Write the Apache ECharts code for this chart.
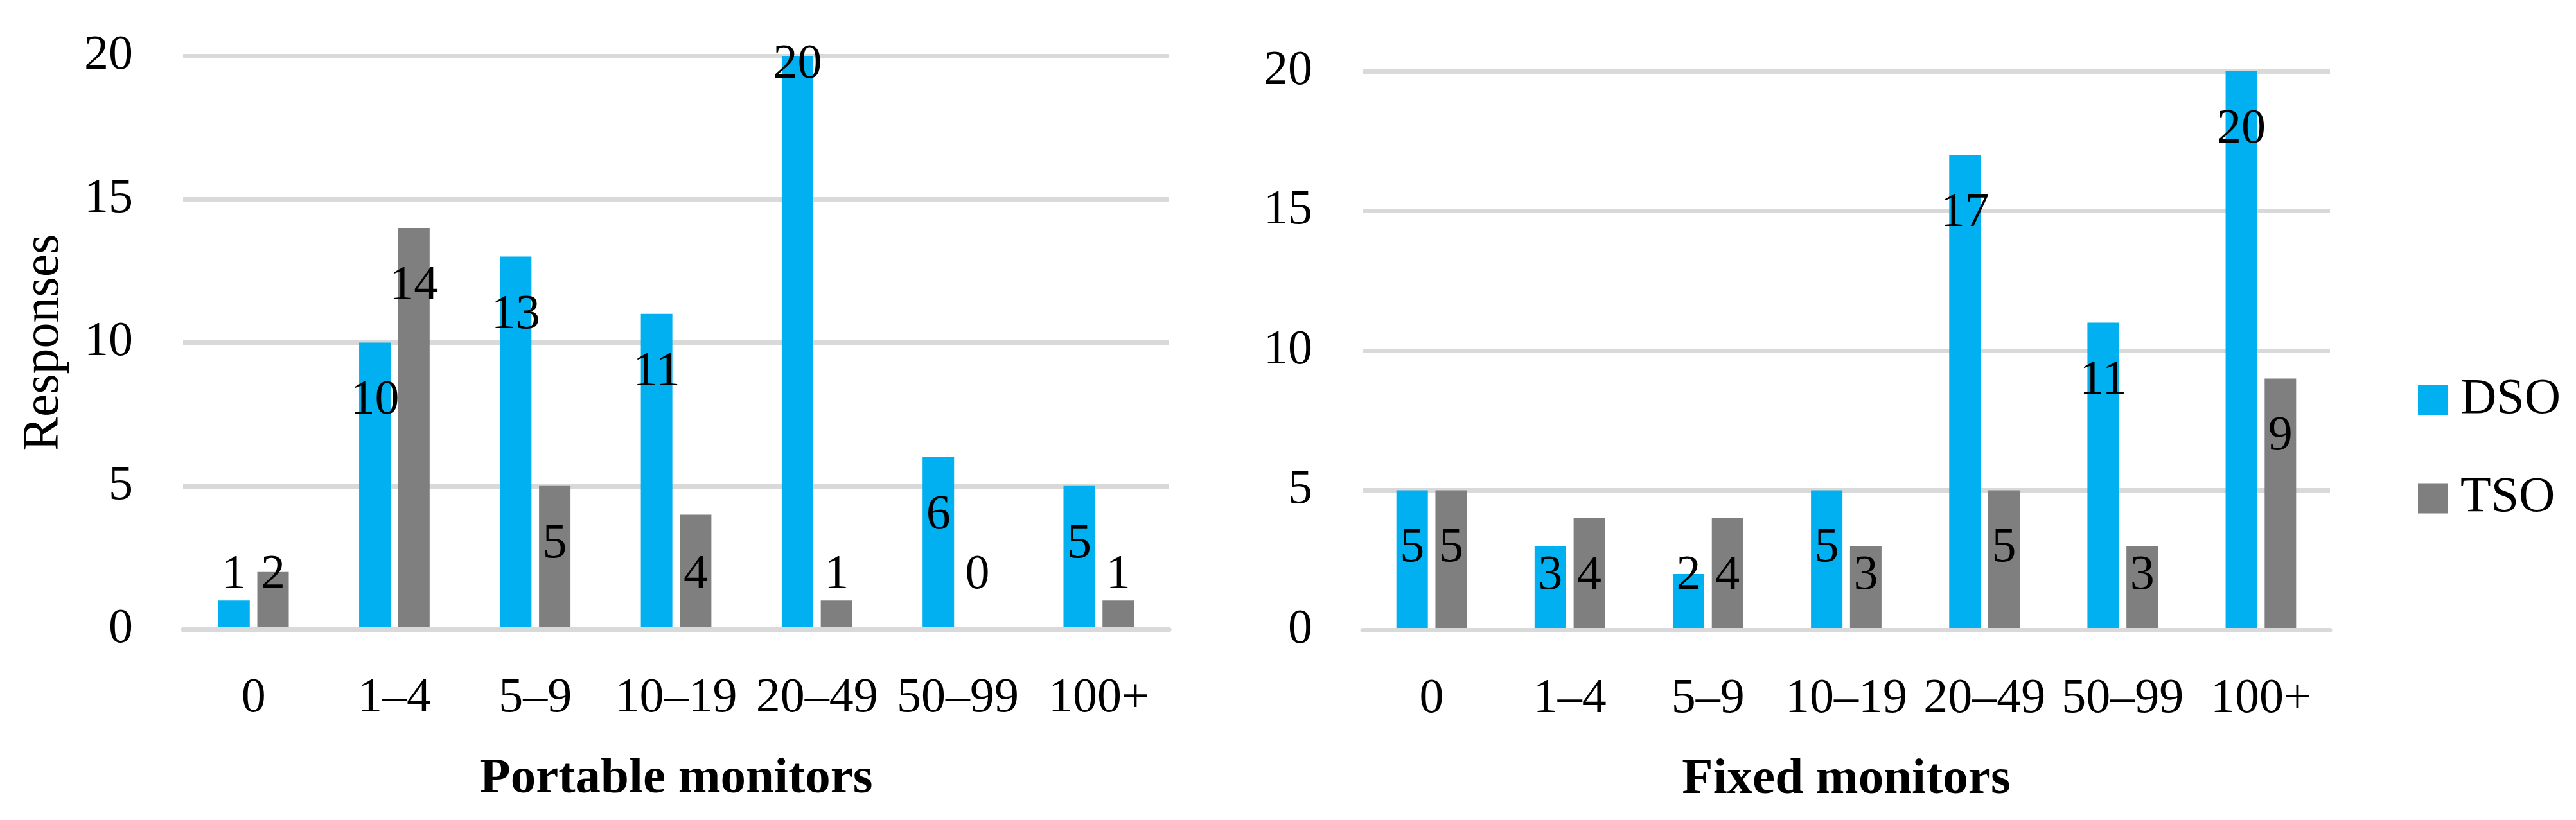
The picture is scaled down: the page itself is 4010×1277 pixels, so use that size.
<!DOCTYPE html>
<html>
<head>
<meta charset="utf-8">
<script src="https://cdn.jsdelivr.net/npm/echarts@6/dist/echarts.min.js"></script>
<style>
  html, body { margin: 0; padding: 0; background: #fff; }
  #chart { width: 4010px; height: 1277px; }
</style>
</head>
<body>
<div id="chart"></div>
<script>
// ---- data ----
const categories = ['0', '1–4', '5–9', '10–19', '20–49', '50–99', '100+'];
const seriesNames = ['DSO', 'TSO'];
const portableDSO = [1, 10, 13, 11, 20, 6, 5];
const portableTSO = [2, 14, 5, 4, 1, 0, 1];
const fixedDSO = [5, 3, 2, 5, 17, 11, 20];
const fixedTSO = [5, 4, 4, 3, 5, 3, 9];
const yTicks = [0, 5, 10, 15, 20];
const panelTitles = ['Portable monitors', 'Fixed monitors'];
const yAxisTitle = 'Responses';

// ---- style ----
const FONT = 'Liberation Serif';
const FS = 76;
const COLORS = ['#00B0F0', '#7F7F7F'];
const GRIDC = '#D9D9D9';

const chart = echarts.init(document.getElementById('chart'), null, { renderer: 'canvas' });

function labelItems(vals, raiseMaxLabel) {
  return vals.map(v => {
    const item = { value: v };
    if (v < 4.5) {
      item.label = { position: 'insideBottom', distance: 46 };
    } else if (raiseMaxLabel && v === yTicks[yTicks.length - 1]) {
      item.label = { position: 'insideTop', distance: -24 };
    }
    return item;
  });
}

function barSeries(name, vals, idx, color, raiseMaxLabel) {
  return {
    name: name,
    type: 'bar',
    xAxisIndex: idx,
    yAxisIndex: idx,
    barWidth: 49,
    barGap: '24%',
    itemStyle: { color: color },
    label: {
      show: true,
      position: 'insideTop',
      distance: 53,
      color: '#000',
      fontFamily: FONT,
      fontSize: FS
    },
    data: labelItems(vals, raiseMaxLabel)
  };
}

function xAxisDef(idx, title) {
  return {
    type: 'category',
    gridIndex: idx,
    z: 3,
    data: categories,
    axisTick: { show: false },
    axisLine: { show: true, lineStyle: { color: GRIDC, width: 7 } },
    axisLabel: { color: '#000', fontFamily: FONT, fontSize: FS, margin: 70, interval: 0 },
    name: title,
    nameLocation: 'middle',
    nameGap: 194,
    nameTextStyle: { color: '#000', fontFamily: FONT, fontSize: 79, fontWeight: 'bold' }
  };
}

function yAxisDef(idx, title) {
  const d = {
    type: 'value',
    gridIndex: idx,
    min: yTicks[0],
    max: yTicks[yTicks.length - 1],
    interval: yTicks[1] - yTicks[0],
    axisLine: { show: false },
    axisTick: { show: false },
    splitLine: { show: true, lineStyle: { color: GRIDC, width: 7 } },
    axisLabel: { color: '#000', fontFamily: FONT, fontSize: FS, margin: 78 }
  };
  if (title) {
    d.name = title;
    d.nameLocation = 'middle';
    d.nameGap = 176;
    d.nameTextStyle = { color: '#000', fontFamily: FONT, fontSize: 80 };
  }
  return d;
}

const option = {
  backgroundColor: '#fff',
  animation: false,
  textStyle: { fontFamily: FONT },
  grid: [
    { left: 285, top: 87, width: 1535, height: 893 },
    { left: 2121, top: 111, width: 1506, height: 870 }
  ],
  legend: {
    orient: 'vertical',
    left: 3759,
    top: 579,
    icon: 'rect',
    itemWidth: 47,
    itemHeight: 47,
    itemGap: 75,
    textStyle: { color: '#000', fontFamily: FONT, fontSize: 78, lineHeight: 76, padding: [0, 0, 0, 14] },
    data: seriesNames
  },
  xAxis: [xAxisDef(0, panelTitles[0]), xAxisDef(1, panelTitles[1])],
  yAxis: [yAxisDef(0, yAxisTitle), yAxisDef(1, null)],
  series: [
    barSeries(seriesNames[0], portableDSO, 0, COLORS[0], true),
    barSeries(seriesNames[1], portableTSO, 0, COLORS[1], false),
    barSeries(seriesNames[0], fixedDSO, 1, COLORS[0], false),
    barSeries(seriesNames[1], fixedTSO, 1, COLORS[1], false)
  ]
};

chart.setOption(option);
</script>
</body>
</html>
